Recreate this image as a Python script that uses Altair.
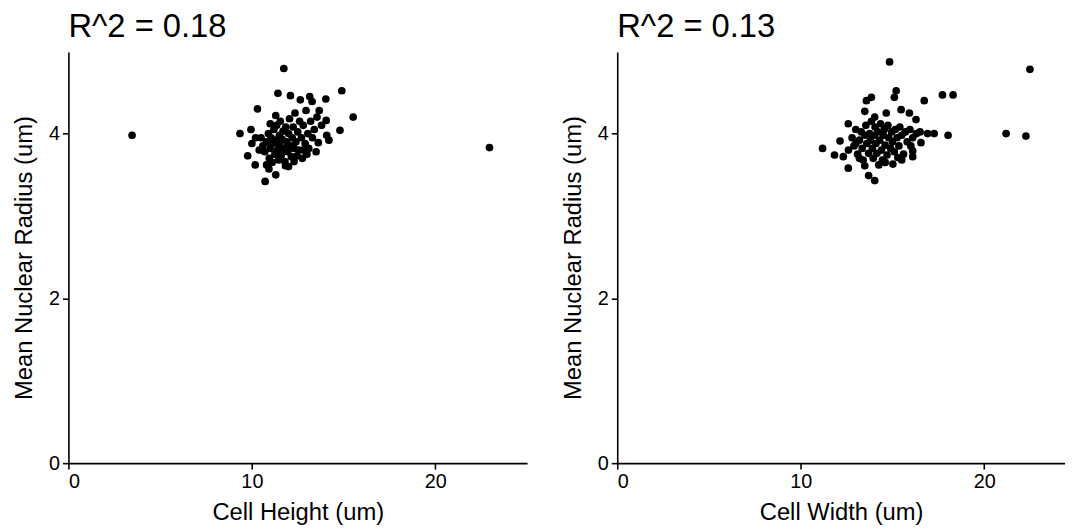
import altair as alt
import pandas as pd

# Left panel: Cell Height (um) vs Mean Nuclear Radius (um)
height_x = [3.47, 22.95, 11.74, 11.42, 12.1, 12.64, 13.15, 13.28, 14.03, 14.9, 10.3, 13.67, 11.3, 15.52,
            14.05, 9.35, 9.95, 14.8, 14.08, 13.62, 9.77, 10.18, 10.93, 11.3, 10.72, 11.83, 13.0, 12.47,
            10.5, 10.6, 10.7, 10.8, 10.9, 10.95, 11.0, 11.05, 11.1, 11.15, 11.2, 11.25, 11.3, 11.35, 11.4,
            11.45, 11.5, 11.5, 11.55, 11.6, 11.65, 11.7, 11.75, 11.8, 11.85, 11.9, 11.95, 12.0, 12.05, 12.1,
            12.15, 12.2, 12.25, 12.3, 12.35, 12.4, 12.5, 12.55, 12.6, 12.7, 12.75, 12.8, 12.9, 12.95, 13.05,
            13.1, 13.2, 13.3, 13.4, 13.5, 13.55, 13.8, 14.2, 10.4, 10.2, 10.0, 11.0, 10.8, 12.0, 12.3, 12.8]
height_y = [3.98, 3.83, 4.79, 4.49, 4.46, 4.41, 4.45, 4.39, 4.42, 4.52, 4.30, 4.28, 4.22, 4.20,
            4.16, 4.00, 4.05, 4.04, 3.98, 3.89, 3.73, 3.62, 3.57, 3.50, 3.42, 3.61, 3.75, 3.73,
            3.95, 3.85, 3.78, 3.90, 4.00, 3.70, 3.82, 3.95, 3.65, 3.88, 4.05, 3.75, 3.92, 4.10, 3.80,
            3.68, 3.98, 3.86, 4.15, 3.74, 3.93, 4.03, 3.82, 3.66, 4.08, 3.90, 3.78, 4.00, 4.18, 3.85,
            3.72, 3.95, 4.08, 3.82, 4.25, 3.90, 4.02, 3.80, 4.15, 3.95, 3.70, 4.10, 3.88, 4.28, 4.00,
            3.82, 4.15, 3.95, 4.05, 3.78, 4.20, 4.10, 3.92, 3.80, 3.95, 3.88, 4.12, 3.62, 3.60, 3.66, 3.80]

# Right panel: Cell Width (um) vs Mean Nuclear Radius (um)
width_x = [14.84, 15.2, 15.1, 13.85, 13.58, 17.72, 18.3, 16.73, 13.49, 15.47, 15.92, 16.28, 14.66, 14.03,
           12.59, 16.91, 17.27, 18.03, 16.55, 11.19, 12.14, 11.84, 12.32, 12.59, 13.49, 13.7, 14.03, 16.1,
           16.1, 15.02, 15.29, 22.49, 21.19, 22.27,
           12.8, 12.9, 13.0, 13.1, 13.2, 13.3, 13.35, 13.4, 13.5, 13.55, 13.6, 13.7, 13.75, 13.8, 13.85,
           13.9, 13.95, 14.0, 14.05, 14.1, 14.15, 14.2, 14.3, 14.35, 14.4, 14.45, 14.5, 14.55, 14.6, 14.7,
           14.75, 14.8, 14.9, 14.95, 15.0, 15.1, 15.15, 15.25, 15.35, 15.4, 15.5, 15.6, 15.7, 15.8, 15.95,
           16.1, 16.3, 16.5, 13.2, 14.25, 14.6, 12.6, 13.0, 15.5, 16.0]
width_y = [4.87, 4.52, 4.44, 4.44, 4.40, 4.47, 4.47, 4.40, 4.27, 4.29, 4.25, 4.17, 4.25, 4.20,
           4.12, 4.00, 4.00, 3.98, 3.89, 3.82, 3.91, 3.74, 3.72, 3.58, 3.61, 3.49, 3.43, 3.79,
           3.72, 3.63, 3.71, 4.78, 4.00, 3.97,
           3.95, 3.85, 4.05, 3.75, 3.92, 4.02, 3.82, 3.68, 3.98, 4.10, 3.88, 3.76, 4.00, 3.92, 4.15,
           3.82, 3.70, 3.98, 4.08, 3.88, 3.76, 4.02, 3.92, 4.12, 3.80, 3.68, 3.98, 4.05, 3.86, 3.74,
           4.10, 3.95, 3.82, 4.02, 3.90, 3.78, 4.05, 3.95, 3.85, 4.08, 3.98, 3.75, 4.02, 3.90, 4.05,
           3.95, 4.00, 4.02, 3.70, 3.62, 3.65, 3.80, 3.88, 3.68, 3.85]

left_df = pd.DataFrame({"x": height_x, "y": height_y})
right_df = pd.DataFrame({"x": width_x, "y": width_y})

FONT = "Liberation Sans"


def panel(df, xtitle, title, xmax, w):
    return alt.Chart(df).mark_circle(size=60, color="black", opacity=1).encode(
        x=alt.X("x:Q", title=xtitle,
                scale=alt.Scale(domain=[0, xmax], nice=False, zero=True),
                axis=alt.Axis(values=[0, 10, 20])),
        y=alt.Y("y:Q", title="Mean Nuclear Radius (um)",
                scale=alt.Scale(domain=[0, 4.99], nice=False),
                axis=alt.Axis(values=[0, 2, 4])),
    ).properties(
        width=w, height=415,
        title=alt.TitleParams(title, anchor="start", frame="group", fontSize=33, font=FONT,
                              fontWeight="normal", color="black", offset=8),
    )


left = panel(left_df, "Cell Height (um)", "R^2 = 0.18", 25.0, 463)
right = panel(right_df, "Cell Width (um)", "R^2 = 0.13", 24.4, 452)

chart = alt.hconcat(left, right, spacing=34).properties(
    padding={"left": 4, "top": 1, "right": 0, "bottom": 0}
).configure_view(stroke=None).configure_axis(
    grid=False,
    domainColor="black", domainWidth=1.6,
    tickColor="black", tickWidth=1.6, tickSize=6,
    labelFont=FONT, labelFontSize=20, labelColor="black", labelPadding=3,
    titleFont=FONT, titleFontSize=24, titleFontWeight="normal", titleColor="black",
).configure_axisY(titlePadding=12).configure_axisX(titlePadding=9)

chart.save("out.html", embed_options={"renderer": "svg", "actions": False})
